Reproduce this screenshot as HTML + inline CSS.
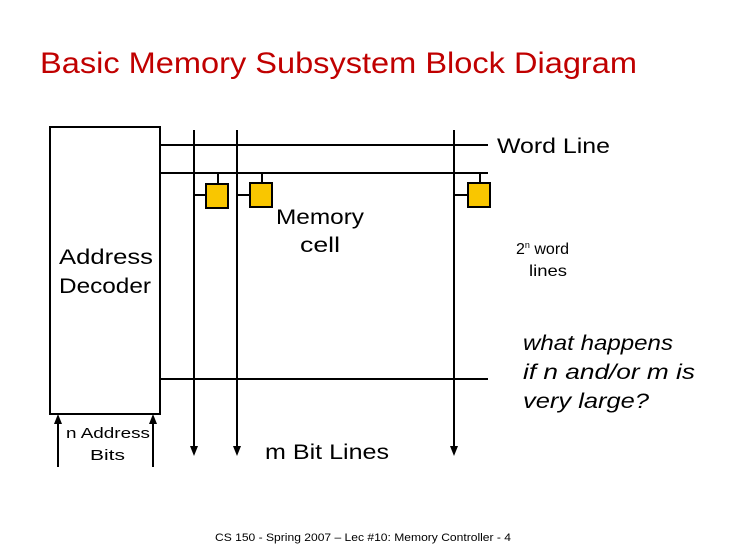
<!DOCTYPE html>
<html><head><meta charset="utf-8"><style>
html,body{margin:0;padding:0;background:#fff;width:730px;height:547px;overflow:hidden}
svg text{font-family:"Liberation Sans",sans-serif;fill:#000}
</style></head><body>
<svg width="730" height="547" viewBox="0 0 730 547" xmlns="http://www.w3.org/2000/svg">
<text x="40" y="73" font-size="30" textLength="597" lengthAdjust="spacingAndGlyphs" style="fill:#c00000">Basic Memory Subsystem Block Diagram</text>
<rect x="50" y="127" width="110" height="287" fill="none" stroke="#000" stroke-width="2"/>
<text x="59" y="264" font-size="21" textLength="94" lengthAdjust="spacingAndGlyphs">Address</text>
<text x="59" y="293" font-size="21" textLength="92" lengthAdjust="spacingAndGlyphs">Decoder</text>
<g stroke="#000" stroke-width="2">
<line x1="58" y1="467" x2="58" y2="422"/>
<line x1="153" y1="467" x2="153" y2="422"/>
<line x1="160" y1="145" x2="488" y2="145"/>
<line x1="160" y1="173" x2="488" y2="173"/>
<line x1="160" y1="379" x2="488" y2="379"/>
<line x1="194" y1="130" x2="194" y2="446"/>
<line x1="237" y1="130" x2="237" y2="446"/>
<line x1="454" y1="130" x2="454" y2="446"/>
<line x1="218" y1="173" x2="218" y2="184"/>
<line x1="262" y1="173" x2="262" y2="183"/>
<line x1="480" y1="173" x2="480" y2="183"/>
<line x1="194" y1="195" x2="206" y2="195"/>
<line x1="237" y1="195" x2="250" y2="195"/>
<line x1="454" y1="195" x2="468" y2="195"/>
</g>
<g fill="#000">
<polygon points="54,424 58,414 62,424"/>
<polygon points="149,424 153,414 157,424"/>
<polygon points="190,446 198,446 194,456"/>
<polygon points="233,446 241,446 237,456"/>
<polygon points="450,446 458,446 454,456"/>
</g>
<g fill="#f9c600" stroke="#000" stroke-width="2">
<rect x="206" y="184" width="22" height="24"/>
<rect x="250" y="183" width="22" height="24"/>
<rect x="468" y="183" width="22" height="24"/>
</g>
<text x="66" y="438" font-size="15" textLength="84" lengthAdjust="spacingAndGlyphs">n Address</text>
<text x="90" y="460" font-size="15" textLength="35" lengthAdjust="spacingAndGlyphs">Bits</text>
<text x="497" y="153" font-size="21" textLength="113" lengthAdjust="spacingAndGlyphs">Word Line</text>
<text x="276" y="224" font-size="21" textLength="88" lengthAdjust="spacingAndGlyphs">Memory</text>
<text x="300" y="252" font-size="21" textLength="40" lengthAdjust="spacingAndGlyphs">cell</text>
<text x="516" y="254" font-size="16">2<tspan font-size="9" dy="-6">n</tspan><tspan dy="6"> word</tspan></text>
<text x="529" y="276" font-size="16" textLength="38" lengthAdjust="spacingAndGlyphs">lines</text>
<g font-size="21" font-style="italic"><text x="523" y="350" textLength="150" lengthAdjust="spacingAndGlyphs">what happens</text><text x="523" y="379" textLength="172" lengthAdjust="spacingAndGlyphs">if n and/or m is</text><text x="523" y="408" textLength="126" lengthAdjust="spacingAndGlyphs">very large?</text></g>
<text x="265" y="459" font-size="21" textLength="124" lengthAdjust="spacingAndGlyphs">m Bit Lines</text>
<text x="215" y="541" font-size="11" textLength="296" lengthAdjust="spacingAndGlyphs">CS 150 - Spring 2007 – Lec #10: Memory Controller - 4</text>
</svg>
</body></html>
